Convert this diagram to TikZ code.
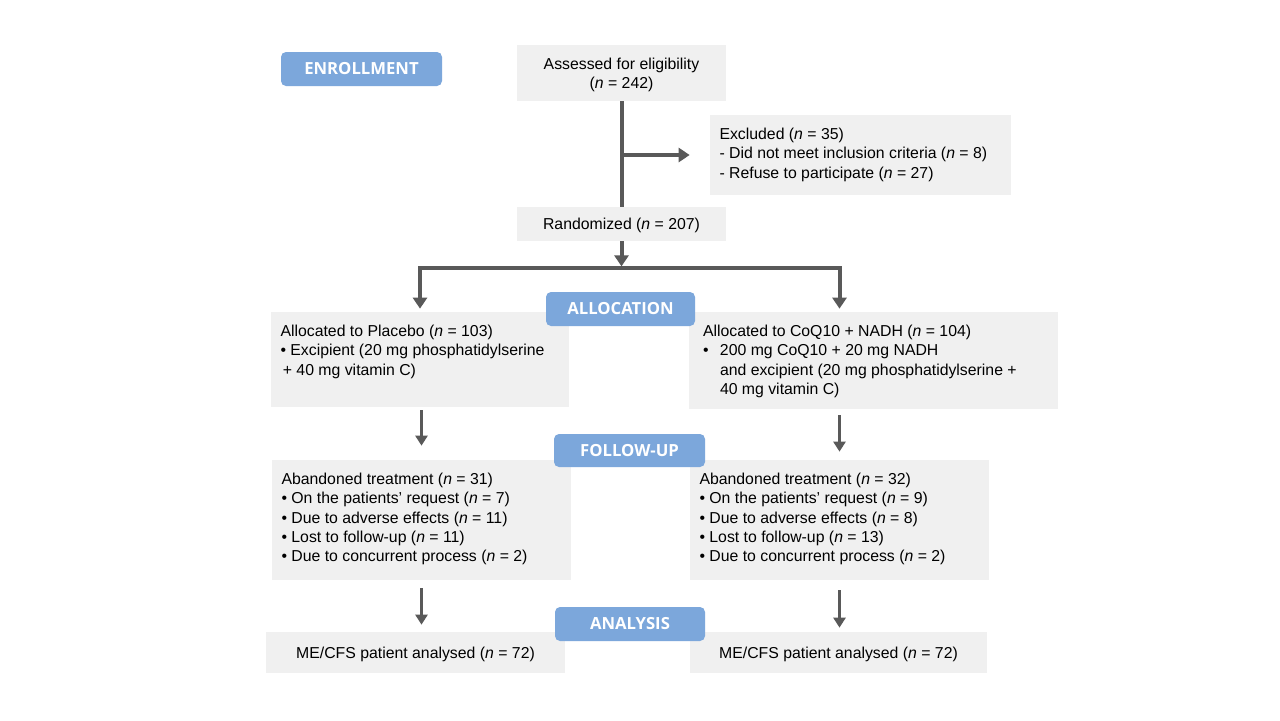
\documentclass[tikz,border=0pt]{standalone}
\usepackage{fontspec}
\setmainfont{Liberation Sans}
\newfontfamily\stagefont{Open Sans}
\usepackage{xcolor}
\definecolor{ctblue}{RGB}{124,167,219}
\definecolor{ctgrey}{RGB}{240,240,240}
\definecolor{ctline}{RGB}{89,89,89}
\usetikzlibrary{arrows.meta,positioning,calc}
\newcommand{\ncount}[1]{(\textit{n} = #1)}
\newcommand{\topbox}[3]{\parbox[c][#2][t]{#1}{\raggedright #3}}
\tikzset{
  phase/.style={fill=ctblue, rounded corners=0.1cm, text=white, font=\stagefont\bfseries\fontsize{9.5}{11}\selectfont, minimum width=3.0cm, minimum height=0.68cm, inner sep=0pt},
  cbox/.style={fill=ctgrey, align=center, font=\fontsize{9}{11}\selectfont, inner sep=0pt, text depth=0pt},
  tbox/.style={fill=ctgrey, inner xsep=0.19cm, inner ysep=0.26cm, font=\fontsize{9}{11}\selectfont},
  trunk/.style={line width=0.08cm, draw=ctline},
  arr/.style={trunk, -{Triangle[length=0.22cm,width=0.28cm]}},
  arrs/.style={line width=0.06cm, draw=ctline, -{Triangle[length=0.2cm,width=0.24cm]}}
}

\begin{document}
\begin{tikzpicture}
  \fill[white] (0,0) rectangle (25.6,-14.4);
  \useasboundingbox (0,0) rectangle (25.6,-14.4);
  \node[cbox, minimum width=4.18cm, minimum height=1.12cm] (assess) at (12.43,-1.46) {Assessed for eligibility\\\ncount{242}};
  \node[tbox] (excl) at (17.21,-3.10) {\topbox{5.64cm}{1.08cm}{Excluded \ncount{35}\\- Did not meet inclusion criteria \ncount{8}\\- Refuse to participate \ncount{27}}};
  \node[cbox, minimum width=4.18cm, minimum height=0.68cm] (rand) at (12.43,-4.48) {Randomized \ncount{207}};
  \node[tbox] (plac) at (8.40,-7.19) {\topbox{5.58cm}{1.38cm}{Allocated to Placebo \ncount{103}\\\textbullet\ Excipient (20 mg phosphatidylserine\\\hspace*{0.15em}+ 40 mg vitamin C)}};
  \node[tbox, inner xsep=0.28cm] (coq) at (17.47,-7.21) {\topbox{6.82cm}{1.42cm}{Allocated to CoQ10 + NADH \ncount{104}\\\makebox[0.34cm][l]{\textbullet}200 mg CoQ10 + 20 mg NADH\\\hspace*{0.34cm}and excipient (20 mg phosphatidylserine +\\\hspace*{0.34cm}40 mg vitamin C)}};
  \node[tbox] (abL) at (8.43,-10.40) {\topbox{5.60cm}{1.88cm}{Abandoned treatment \ncount{31}\\\textbullet\ On the patients' request \ncount{7}\\\textbullet\ Due to adverse effects \ncount{11}\\\textbullet\ Lost to follow-up \ncount{11}\\\textbullet\ Due to concurrent process \ncount{2}}};
  \node[tbox] (abR) at (16.79,-10.40) {\topbox{5.60cm}{1.88cm}{Abandoned treatment \ncount{32}\\\textbullet\ On the patients' request \ncount{9}\\\textbullet\ Due to adverse effects \ncount{8}\\\textbullet\ Lost to follow-up \ncount{13}\\\textbullet\ Due to concurrent process \ncount{2}}};
  \node[cbox, minimum width=5.98cm, minimum height=0.82cm] (anL) at (8.31,-13.05) {ME/CFS patient analysed \ncount{72}};
  \node[cbox, minimum width=5.94cm, minimum height=0.82cm] (anR) at (16.77,-13.05) {ME/CFS patient analysed \ncount{72}};
  \coordinate (split) at (assess.south |- excl.west);
  \coordinate (fork) at ([yshift=-0.54cm]rand.south);
  \coordinate (inR) at (abR.north |- coq.north);
  \coordinate (outL) at (abL.north |- plac.south);
  \coordinate (outR) at (abR.north |- coq.south);
  \coordinate (inAL) at (abL.south |- anL.north);
  \coordinate (inAR) at (abR.south |- anR.north);
  \draw[trunk] (assess.south) -- (rand.north);
  \draw[arr] (split) -- ([xshift=-0.4cm]excl.west);
  \draw[arr] (rand.south) -- ([yshift=0.04cm]fork);
  \draw[arr] (fork) -| ([yshift=0.06cm]plac.north);
  \draw[arr] (fork) -| ([yshift=0.06cm]inR);
  \draw[arrs] ([yshift=-0.06cm]outL) -- ([yshift=0.28cm]abL.north);
  \draw[arrs] ([yshift=-0.12cm]outR) -- ([yshift=0.16cm]abR.north);
  \draw[arrs] ([yshift=-0.16cm]abL.south) -- ([yshift=0.14cm]inAL);
  \draw[arrs] ([yshift=-0.2cm]abR.south) -- ([yshift=0.08cm]inAR);
  \node[phase, minimum width=3.22cm] (enrol) at (7.23,-1.38) {ENROLLMENT};
  \node[phase, minimum width=2.98cm] (alloc) at (12.41,-6.18) {ALLOCATION};
  \node[phase, minimum width=3.02cm, minimum height=0.66cm] (follow) at (12.59,-9.01) {FOLLOW-UP};
  \node[phase] (analysis) at (12.60,-12.48) {ANALYSIS};
\end{tikzpicture}
\end{document}
